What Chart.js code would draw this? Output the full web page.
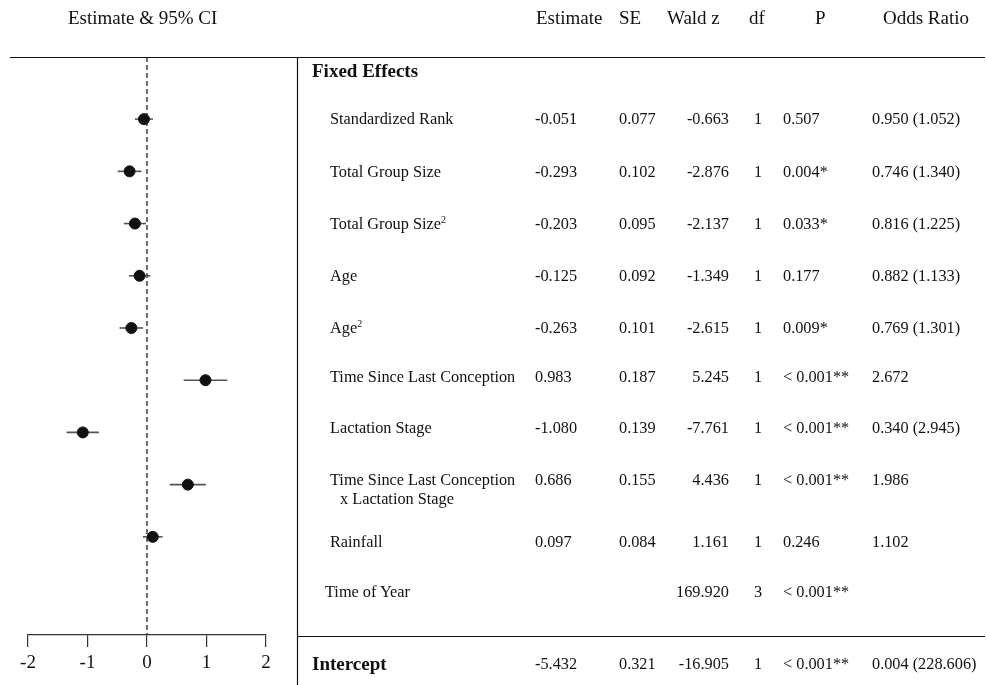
<!DOCTYPE html>
<html>
<head>
<meta charset="utf-8">
<script src="https://cdn.jsdelivr.net/npm/chart.js@4.4.1/dist/chart.umd.min.js"></script>
<style>
  html, body { margin: 0; padding: 0; background: #fff; }
  #wrap { position: relative; width: 987px; height: 685px; overflow: hidden; font-family: "Liberation Serif", "Times New Roman", serif; color: #111; }
  #chart { position: absolute; left: 0; top: 0; }
  .t { position: absolute; white-space: nowrap; font-size: 16.3px; line-height: 20px; }
  .h { font-size: 19px; line-height: 22px; }
  .b { font-weight: bold; font-size: 19px; line-height: 22px; }
  .r { text-align: right; }
  sup { font-size: 10px; vertical-align: 6px; line-height: 0; }
</style>
</head>
<body>
<div id="wrap">
  <canvas id="chart" width="987" height="685"></canvas>
</div>
<script>
// Fixed effects (one per plotted row)
const rows = ["Standardized Rank", "Total Group Size", "Total Group Size<sup>2</sup>", "Age", "Age<sup>2</sup>",
              "Time Since Last Conception", "Lactation Stage", "Time Since Last Conception", "Rainfall"];
const estimate = [-0.051, -0.293, -0.203, -0.125, -0.263, 0.983, -1.080, 0.686, 0.097];
const se       = [0.077, 0.102, 0.095, 0.092, 0.101, 0.187, 0.139, 0.155, 0.084];
const ciLow    = [-0.202, -0.493, -0.389, -0.305, -0.461, 0.616, -1.352, 0.382, -0.068];
const ciHigh   = [0.100, -0.093, -0.017, 0.055, -0.065, 1.350, -0.808, 0.990, 0.262];
const waldZ    = ["-0.663", "-2.876", "-2.137", "-1.349", "-2.615", "5.245", "-7.761", "4.436", "1.161"];
const df       = ["1", "1", "1", "1", "1", "1", "1", "1", "1"];
const pValue   = ["0.507", "0.004*", "0.033*", "0.177", "0.009*", "< 0.001**", "< 0.001**", "< 0.001**", "0.246"];
const oddsRatio = ["0.950 (1.052)", "0.746 (1.340)", "0.816 (1.225)", "0.882 (1.133)", "0.769 (1.301)",
                   "2.672", "0.340 (2.945)", "1.986", "1.102"];

// extra table rows
const timeOfYear = { label: "Time of Year", waldZ: "169.920", df: "3", p: "< 0.001**" };
const intercept = { label: "Intercept", estimate: "-5.432", se: "0.321", waldZ: "-16.905", df: "1", p: "< 0.001**", or: "0.004 (228.606)" };

const xTicks = [-2, -1, 0, 1, 2];
const headers = ["Estimate", "SE", "Wald z", "df", "P", "Odds Ratio"];

// table layout
const rowY = [119, 172, 224, 276, 328, 377, 428, 480, 542];
const wrap = document.getElementById("wrap");

function addText(html, x, y, cls, right) {
    const d = document.createElement("div");
    d.className = "t " + (cls || "");
    d.innerHTML = html;
    if (right) {
        d.style.right = (987 - x) + "px";
        d.classList.add("r");
    } else {
        d.style.left = x + "px";
    }
    d.style.top = (y - (cls ? 11 : 10)) + "px";
    wrap.appendChild(d);
}

addText("Estimate &amp; 95% CI", 68, 18, "h");
const headerX = [536, 619, 667, 749, 815, 883];
headers.forEach((h, i) => addText(h, headerX[i], 18, "h"));

addText("Fixed Effects", 312, 71, "b");
rows.forEach((label, i) => {
    const y = rowY[i];
    addText(label, 330, y);
    addText(estimate[i].toFixed(3), 535, y);
    addText(se[i].toFixed(3), 619, y);
    addText(waldZ[i], 729, y, "", true);
    addText(df[i], 754, y);
    addText(pValue[i], 783, y);
    addText(oddsRatio[i], 872, y);
});
addText("x Lactation Stage", 340, 499);

addText(timeOfYear.label, 325, 592);
addText(timeOfYear.waldZ, 729, 592, "", true);
addText(timeOfYear.df, 754, 592);
addText(timeOfYear.p, 783, 592);

addText(intercept.label, 312, 664, "b");
addText(intercept.estimate, 535, 664);
addText(intercept.se, 619, 664);
addText(intercept.waldZ, 729, 664, "", true);
addText(intercept.df, 754, 664);
addText(intercept.p, 783, 664);
addText(intercept.or, 872, 664);

// frame lines of the figure
const framePlugin = {
    id: "frame",
    afterDraw(chart) {
        const ctx = chart.ctx;
        ctx.save();
        ctx.strokeStyle = "#111";
        ctx.lineWidth = 1.2;
        ctx.beginPath();
        ctx.moveTo(10, 57.5); ctx.lineTo(985, 57.5);
        ctx.moveTo(297.5, 57); ctx.lineTo(297.5, 685);
        ctx.moveTo(297, 636.5); ctx.lineTo(985, 636.5);
        ctx.stroke();
        ctx.restore();
    }
};

const yMin = -1.19, yMax = 9.88;

const whiskers = estimate.map((e, i) => ({
    type: "line",
    order: 1,
    data: [{ x: ciLow[i], y: i }, { x: ciHigh[i], y: i }],
    borderColor: "#555",
    borderWidth: 1.6,
    pointRadius: 0,
    showLine: true
}));

new Chart(document.getElementById("chart"), {
    type: "scatter",
    data: {
        datasets: [
            {
                type: "line",
                order: 2,
                data: [{ x: 0, y: yMin }, { x: 0, y: yMax }],
                borderColor: "#111",
                borderWidth: 1.2,
                borderDash: [5, 3],
                pointRadius: 0,
                showLine: true
            },
            ...whiskers,
            {
                order: 0,
                data: estimate.map((e, i) => ({ x: e, y: i })),
                backgroundColor: "#111",
                borderColor: "#111",
                pointRadius: 5.5,
                pointHoverRadius: 5.5
            }
        ]
    },
    options: {
        responsive: false,
        animation: false,
        devicePixelRatio: 1,
        layout: { padding: { left: 28, right: 721, top: 57, bottom: 0 } },
        plugins: { legend: { display: false }, tooltip: { enabled: false } },
        scales: {
            x: {
                type: "linear",
                min: -2,
                max: 2,
                afterBuildTicks: scale => { scale.ticks = xTicks.map(v => ({ value: v })); },
                afterFit: scale => { scale.height = 50; },
                ticks: {
                    padding: 5,
                    color: "#111",
                    font: { family: "Liberation Serif", size: 19 },
                    callback: v => String(v)
                },
                grid: { drawOnChartArea: false, drawTicks: true, tickLength: 12, color: "#333", lineWidth: 1.2 },
                border: { display: true, color: "#333", width: 1.2 }
            },
            y: {
                type: "linear",
                display: false,
                reverse: true,
                min: yMin,
                max: yMax
            }
        }
    },
    plugins: [framePlugin]
});
</script>
</body>
</html>
